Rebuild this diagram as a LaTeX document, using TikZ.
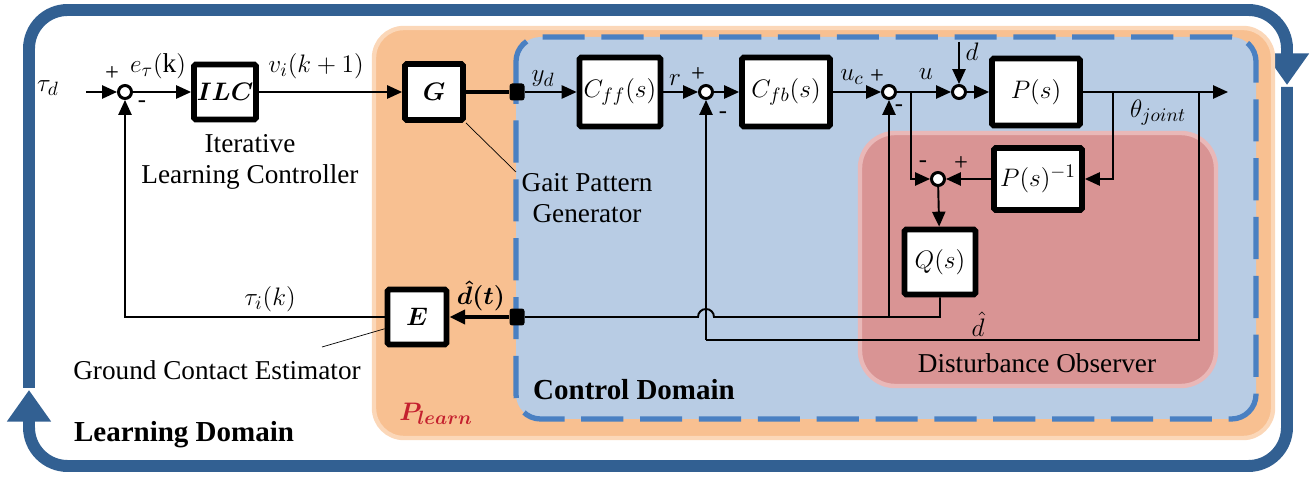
\documentclass[tikz,border=0pt]{standalone}
\usepackage{amsmath,amssymb}
\usepackage{fontspec}
\setmainfont{Liberation Serif}
\usepackage{tikz}
\usetikzlibrary{arrows.meta}
\definecolor{frameblue}{RGB}{50,96,146}
\definecolor{learnorange}{RGB}{248,192,145}
\definecolor{learnedge}{RGB}{251,215,184}
\definecolor{ctrlblue}{RGB}{184,204,228}
\definecolor{dashblue}{RGB}{74,128,194}
\definecolor{dobred}{RGB}{217,148,148}
\definecolor{dobedge}{RGB}{233,184,184}
\definecolor{plearnred}{RGB}{196,32,46}
\begin{document}
\begin{tikzpicture}[x=0.02cm,y=-0.02cm,font=\fontsize{15.5}{18}\selectfont,
  blk/.style={draw,line width=3.3pt,fill=white,rounded corners=1pt,inner sep=0pt},
  sumnode/.style={circle,draw,line width=1.7pt,fill=white,minimum size=0.26cm,inner sep=0pt},
  port/.style={fill=black,rounded corners=1.5pt,minimum width=0.3cm,minimum height=0.34cm,inner sep=0pt},
  sig/.style={line width=1.1pt,-{Triangle[length=8.5pt,width=7.5pt]}},
  wire/.style={line width=1.1pt},
  thk/.style={line width=2.6pt},
  note/.style={line width=0.4pt},
  sgn/.style={font=\fontsize{14}{14}\selectfont,inner sep=0pt},
  frame/.style={draw=frameblue,line width=6.8pt,rounded corners=22pt,-{Triangle[length=18pt,width=24pt]}}]
\useasboundingbox (0,0) rectangle (1315,479);
\draw[frame] (29,388) -- (29,10) -- (1287,10) -- (1287,85);
\draw[frame] (1287,87) -- (1287,466) -- (29,466) -- (29,390);
\draw[fill=learnorange,draw=learnedge,line width=2.5pt,rounded corners=17pt] (374,28) rectangle (1273,438);
\draw[fill=ctrlblue,draw=dashblue,line width=3pt,dash pattern=on 24pt off 9.5pt,rounded corners=14pt] (516,37) rectangle (1256,419);
\draw[fill=dobred,draw=dobedge,line width=2.5pt,rounded corners=20pt] (860,133) rectangle (1216,386);

\node[sumnode] (s1) at (125,92) {};
\node[blk,minimum width=1.24cm,minimum height=1.1cm] (ilc) at (225,92) {$\boldsymbol{ILC}$};
\node[blk,minimum width=1.16cm,minimum height=1.12cm] (g) at (434,92) {$\boldsymbol{G}$};
\node[port] (p1) at (517,92) {};
\node[blk,minimum width=1.62cm,minimum height=1.38cm] (cff) at (620,92) {$C_{ff}(s)$};
\node[sumnode] (s2) at (706,92) {};
\node[blk,minimum width=1.76cm,minimum height=1.38cm] (cfb) at (786,92) {$C_{fb}(s)$};
\node[sumnode] (s3) at (889,92) {};
\node[sumnode] (s4) at (959,92) {};
\node[blk,minimum width=1.76cm,minimum height=1.34cm] (plant) at (1036,92) {$P(s)$};
\node[blk,minimum width=1.76cm,minimum height=1.24cm] (pinv) at (1038,179) {$P(s)^{-1}$};
\node[sumnode] (s5) at (938,179) {};
\node[blk,minimum width=1.42cm,minimum height=1.3cm] (qf) at (940,262) {$Q(s)$};
\node[port] (p2) at (517,317) {};
\node[blk,minimum width=1.18cm,minimum height=1.1cm] (est) at (417,317) {$\boldsymbol{E}$};

\coordinate (tin) at (86,92);
\coordinate (dtop) at (959,42);
\coordinate (yout) at (1228,92);
\coordinate (bp) at (1113,92);
\coordinate (bu) at (911,92);
\coordinate (bfb) at (1199,92);
\coordinate (dh) at (qf |- p2);
\coordinate (dh3) at (s3 |- p2);
\coordinate (fbc) at (s2 |- 0,340);

\draw[sig] (tin) -- (s1);
\draw[sig] (s1) -- (ilc);
\draw[sig] (ilc) -- (g);
\draw[thk] (g) -- (p1);
\draw[sig] (p1) -- (cff);
\draw[sig] (cff) -- (s2);
\draw[sig] (s2) -- (cfb);
\draw[sig] (cfb) -- (s3);
\draw[sig] (s3) -- (s4);
\draw[sig] (dtop) -- (s4);
\draw[sig] (s4) -- (plant);
\draw[sig] (plant) -- (yout);
\draw[sig] (bp) |- (pinv);
\draw[sig] (pinv) -- (s5);
\draw[sig] (bu) |- (s5);
\draw[sig] (s5) -- (qf);
\draw[wire] (qf) -- (dh) -- (714,317) arc[start angle=0,end angle=-180,radius=8] -- (p2);
\draw[sig] (dh3) -- (s3);
\draw[wire] (bfb) |- (fbc);
\draw[sig] (fbc) -- (s2);
\draw[thk,-{Triangle[length=9pt,width=8pt]}] (p2) -- (est);
\draw[sig] (est) -| (s1);

\node (ltd) at (48,88) {$\tau_d$};
\node[sgn] (sp1) at (112,74) {+};
\node[sgn] (sm1) at (142,104) {-};
\node (le) at (158,66) {$e_\tau(\mathrm{k})$};
\node (lv) at (316,66) {$v_i(k+1)$};
\node (lyd) at (543,79) {$y_d$};
\node (lr) at (675,80) {$r$};
\node[sgn] (sp2) at (698,75) {+};
\node[sgn] (sm2) at (723,115) {-};
\node (luc) at (852,77) {$u_c$};
\node[sgn] (sp3) at (877,77) {+};
\node[sgn] (sm3) at (899,108) {-};
\node (lu) at (926,74) {$u$};
\node (ld) at (972,52) {$d$};
\node (lth) at (1158,113) {$\theta_{joint}$};
\node[sgn] (sm5) at (923,164) {-};
\node[sgn] (sp5) at (961,164) {+};
\node (lti) at (270,299) {$\tau_i(k)$};
\node[inner sep=1pt] (ldt) at (481,296) {$\boldsymbol{\hat{d}(t)}$};
\node[inner sep=1pt] (ldh) at (978,324) {$\hat{d}$};

\node[align=center] (ilctxt) at (250,162) {Iterative\\Learning Controller};
\node[align=center] (gpg) at (587,198) {Gait Pattern\\Generator};
\node (gce) at (217,370) {Ground Contact Estimator};
\draw[note] (g.south east) -- (516,172);
\draw[note] (est.200) -- (322,347);

\node (ldom) at (184,435) {\fontsize{16.5}{18}\selectfont\bfseries Learning Domain};
\node (cdom) at (634,390) {\fontsize{16.5}{18}\selectfont\bfseries Control Domain};
\node[text=plearnred] (plearn) at (436,414) {$\boldsymbol{P_{learn}}$};
\node (dob) at (1037,363) {Disturbance Observer};
\end{tikzpicture}
\end{document}
